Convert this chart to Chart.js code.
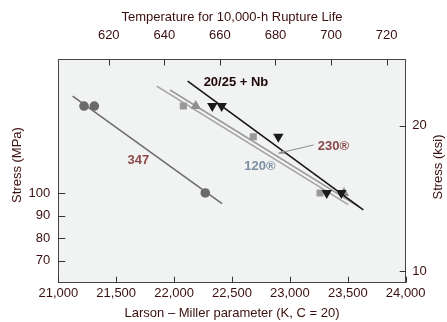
<!DOCTYPE html>
<html>
<head>
<meta charset="utf-8">
<script src="https://cdn.jsdelivr.net/npm/chart.js@4.4.1/dist/chart.umd.min.js"></script>
<style>
  body { margin: 0; background: #fff; }
  canvas { display: block; }
</style>
</head>
<body>
<canvas id="lmpChart" width="447" height="322"></canvas>
<script>
// axis ticks
const lmpTicks = [21000, 21500, 22000, 22500, 23000, 23500, 24000];
const tempTicks = [620, 640, 660, 680, 700, 720];
const mpaTicks = [70, 80, 90, 100];
const ksiTicks = [10, 20];

// 347 stainless
const alloy347Lmp = [21222, 21311, 22269];
const alloy347Mpa = [151.3, 151.3, 100];
const alloy347LineLmp = [21124, 22414];
const alloy347LineMpa = [158.6, 95.0];

// 20/25 + Nb
const nbLmp = [22330, 22411, 22900, 23318, 23444];
const nbMpa = [151.3, 151.3, 130.7, 100, 100];
const nbLineLmp = [22117, 23634];
const nbLineMpa = [170.4, 92.3];

// 120 alloy
const a120Lmp = [22080, 22684, 23260];
const a120Mpa = [151.3, 130.7, 100];
const a120LineLmp = [21850, 23504];
const a120LineMpa = [166.4, 94.6];

// 230 alloy
const a230Lmp = [22187, 23467];
const a230Mpa = [151.3, 100];
const a230LineLmp = [21965, 23600];
const a230LineMpa = [163.3, 93.5];

const LMP_MIN = 21000, LMP_MAX = 24000;
const KSI_MIN = 9.458, KSI_MAX = 27.39;
const MPA_PER_KSI = 6.8948;

const FONT = "'Liberation Sans', Arial, sans-serif";
const TEXT = "#3a0f0f";

function pts(xs, ys) {
    return xs.map((x, i) => ({ x: x, y: ys[i] }));
}
function lmpToTemp(p) {
    return p / 24 - 273.15;
}
function fixTicks(list) {
    return scale => { scale.ticks = list.map(v => ({ value: v })); };
}

const notes = [
    { text: "347", lmp: 21691, mpa: 116.6, color: "#8e4a4a", align: "center" },
    { text: "20/25 + Nb", lmp: 22255, mpa: 169.1, color: "#1e0808", align: "left" },
    { text: "230®", lmp: 23240, mpa: 124.7, color: "#8a4848", align: "left" },
    { text: "120®", lmp: 22606, mpa: 113.7, color: "#7d8ea3", align: "left" }
];
const arrow230 = { fromLmp: 23205, fromMpa: 125.7, toLmp: 22900, toMpa: 120.8 };

const plotDeco = {
    id: "plotDeco",
    beforeDraw(chart) {
        const a = chart.chartArea, ctx = chart.ctx;
        ctx.save();
        ctx.fillStyle = "#f1f2f2";
        ctx.fillRect(a.left, a.top, a.right - a.left, a.bottom - a.top);
        ctx.restore();
    },
    afterDraw(chart) {
        const a = chart.chartArea, ctx = chart.ctx, s = chart.scales;
        ctx.save();
        ctx.strokeStyle = "#333";
        ctx.lineWidth = 1;
        ctx.beginPath();
        lmpTicks.forEach(v => {
            const x = Math.round(s.x.getPixelForValue(v)) + 0.5;
            ctx.moveTo(x, a.bottom); ctx.lineTo(x, a.bottom - 6);
        });
        tempTicks.forEach(v => {
            const x = Math.round(s.xTop.getPixelForValue(v)) + 0.5;
            ctx.moveTo(x, a.top); ctx.lineTo(x, a.top + 6);
        });
        mpaTicks.forEach(v => {
            const y = Math.round(s.y.getPixelForValue(v)) + 0.5;
            ctx.moveTo(a.left, y); ctx.lineTo(a.left + 7, y);
        });
        ksiTicks.forEach(v => {
            const y = Math.round(s.yKsi.getPixelForValue(v)) + 0.5;
            ctx.moveTo(a.right, y); ctx.lineTo(a.right - 6, y);
        });
        ctx.stroke();

        // alloy labels
        ctx.font = "bold 13px " + FONT;
        ctx.textBaseline = "middle";
        notes.forEach(n => {
            ctx.fillStyle = n.color;
            ctx.textAlign = n.align;
            ctx.fillText(n.text, s.x.getPixelForValue(n.lmp), s.yData.getPixelForValue(n.mpa));
        });

        // arrow to 230 line
        const x1 = s.x.getPixelForValue(arrow230.fromLmp), y1 = s.yData.getPixelForValue(arrow230.fromMpa);
        const x2 = s.x.getPixelForValue(arrow230.toLmp), y2 = s.yData.getPixelForValue(arrow230.toMpa);
        const ang = Math.atan2(y2 - y1, x2 - x1);
        ctx.strokeStyle = "#8c8c8c";
        ctx.fillStyle = "#8c8c8c";
        ctx.beginPath();
        ctx.moveTo(x1, y1); ctx.lineTo(x2, y2);
        ctx.stroke();
        ctx.beginPath();
        ctx.moveTo(x2, y2);
        ctx.lineTo(x2 - 7 * Math.cos(ang - 0.35), y2 - 7 * Math.sin(ang - 0.35));
        ctx.lineTo(x2 - 7 * Math.cos(ang + 0.35), y2 - 7 * Math.sin(ang + 0.35));
        ctx.closePath();
        ctx.fill();

        // side titles
        ctx.font = "13px " + FONT;
        ctx.fillStyle = TEXT;
        ctx.textAlign = "center";
        ctx.translate(17, 165);
        ctx.rotate(-Math.PI / 2);
        ctx.fillText("Stress (MPa)", 0, 0);
        ctx.setTransform(1, 0, 0, 1, 0, 0);
        ctx.translate(438, 167);
        ctx.rotate(-Math.PI / 2);
        ctx.fillText("Stress (ksi)", 0, 0);
        ctx.restore();
    }
};

function lineSet(xs, ys, color, order) {
    return {
        data: pts(xs, ys), showLine: true, pointRadius: 0,
        borderColor: color, borderWidth: 1.6, order: order
    };
}
function pointSet(xs, ys, color, style, radius, rotation, order) {
    return {
        data: pts(xs, ys), showLine: false, pointStyle: style,
        pointRadius: radius, pointRotation: rotation,
        backgroundColor: color, borderColor: color, borderWidth: 0, order: order
    };
}

const axisBorder = { display: true, color: "#444", width: 1 };
const tickFont = { family: FONT, size: 13 };

new Chart(document.getElementById("lmpChart"), {
    type: "scatter",
    data: {
        datasets: [
            lineSet(alloy347LineLmp, alloy347LineMpa, "#6e6e6e", 8),
            pointSet(alloy347Lmp, alloy347Mpa, "#6a6a6a", "circle", 4.8, 0, 7),
            lineSet(a120LineLmp, a120LineMpa, "#a3a3a3", 6),
            pointSet(a120Lmp, a120Mpa, "#999", "rect", 5, 0, 5),
            lineSet(a230LineLmp, a230LineMpa, "#999", 6),
            pointSet(a230Lmp, a230Mpa, "#8f8f8f", "triangle", 6, 0, 5),
            lineSet(nbLineLmp, nbLineMpa, "#151515", 3),
            pointSet(nbLmp, nbMpa, "#1a1a1a", "triangle", 6, 180, 1)
        ].map(d => Object.assign(d, { xAxisID: "x", yAxisID: "yData" }))
    },
    options: {
        responsive: false,
        animation: false,
        devicePixelRatio: 1,
        layout: { padding: 0 },
        plugins: { legend: { display: false }, tooltip: { enabled: false } },
        scales: {
            x: {
                type: "linear", position: "bottom", min: LMP_MIN, max: LMP_MAX,
                afterBuildTicks: fixTicks(lmpTicks),
                afterFit: s => { s.height = 39.3; },
                grid: { display: false, drawTicks: false },
                border: axisBorder,
                ticks: { padding: 3, color: TEXT, font: tickFont,
                    callback: v => v.toLocaleString("en-US") },
                title: { display: true, text: "Larson – Miller parameter (K, C = 20)",
                    color: TEXT, font: tickFont, padding: { top: 0, bottom: 1 } }
            },
            xTop: {
                type: "linear", position: "top",
                min: lmpToTemp(LMP_MIN), max: lmpToTemp(LMP_MAX),
                afterBuildTicks: fixTicks(tempTicks),
                afterFit: s => { s.height = 59.5; },
                grid: { display: false, drawTicks: false },
                border: axisBorder,
                ticks: { padding: 16, color: TEXT, font: tickFont },
                title: { display: true, text: "Temperature for 10,000-h Rupture Life",
                    color: TEXT, font: tickFont, padding: { top: 9.5, bottom: 0 } }
            },
            y: {
                type: "linear", position: "left",
                // left labels are spaced evenly in the original
                min: 60.21, max: 159.55,
                afterBuildTicks: fixTicks(mpaTicks),
                afterFit: s => { s.width = 58.3; },
                grid: { display: false, drawTicks: false },
                border: axisBorder,
                ticks: { padding: 8, color: TEXT, font: tickFont }
            },
            yKsi: {
                type: "logarithmic", position: "right", min: KSI_MIN, max: KSI_MAX,
                afterBuildTicks: fixTicks(ksiTicks),
                afterFit: s => { s.width = 41.3; },
                grid: { display: false, drawTicks: false },
                border: axisBorder,
                ticks: { padding: 6.5, color: TEXT, font: tickFont, callback: v => String(v) }
            },
            yData: {
                type: "logarithmic", display: false,
                min: KSI_MIN * MPA_PER_KSI, max: KSI_MAX * MPA_PER_KSI
            }
        }
    },
    plugins: [plotDeco]
});
</script>
</body>
</html>
